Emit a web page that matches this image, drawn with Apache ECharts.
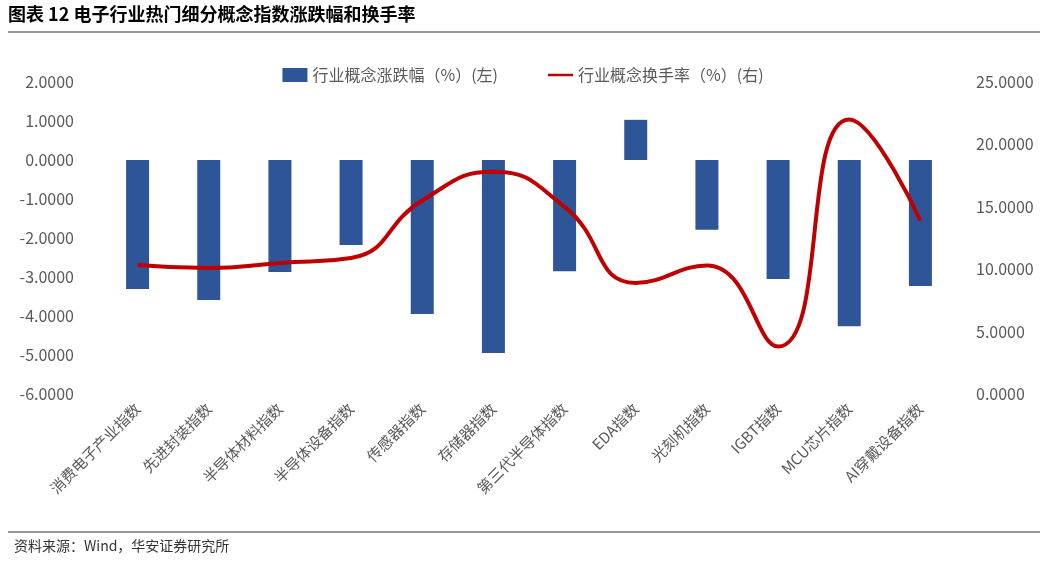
<!DOCTYPE html>
<html>
<head>
<meta charset="utf-8">
<script src="https://cdn.jsdelivr.net/npm/echarts@6/dist/echarts.min.js"></script>
<style>html,body{margin:0;padding:0;background:#fff}</style>
</head>
<body>
<div id="main" style="width:1046px;height:562px"></div>
<script>
// 类目和数据
const categories = ['消费电子产业指数', '先进封装指数', '半导体材料指数', '半导体设备指数', '传感器指数', '存储器指数',
  '第三代半导体指数', 'EDA指数', '光刻机指数', 'IGBT指数', 'MCU芯片指数', 'AI穿戴设备指数'];
const changePct = [-3.31, -3.59, -2.87, -2.18, -3.95, -4.95, -2.85, 1.03, -1.79, -3.05, -4.26, -3.23];
const turnover = [10.34, 10.1, 10.5, 10.9, 15.5, 17.8, 15.0, 8.9, 10.3, 3.8, 22.0, 13.9];

const font = '"Noto Sans CJK SC", "Liberation Sans", sans-serif';
let myChart = echarts.init(document.getElementById('main'));
myChart.setOption({
  textStyle: { fontFamily: font },
  animation: false,
  graphic: [
    { type: 'text', left: 8, top: 5, style: { text: '图表 12 电子行业热门细分概念指数涨跌幅和换手率', font: 'bold 18px ' + font, fill: '#000' } },
    { type: 'line', shape: { x1: 8, y1: 32, x2: 1040, y2: 32 }, style: { stroke: '#333', lineWidth: 1 } },
    { type: 'line', shape: { x1: 8, y1: 532, x2: 1040, y2: 532 }, style: { stroke: '#333', lineWidth: 1 } },
    { type: 'text', left: 14, top: 539, style: { text: '资料来源：Wind，华安证券研究所', font: '14px ' + font, fill: '#333' } }
  ],
  legend: {
    top: 62, left: 'center', itemGap: 50,
    textStyle: { fontSize: 16, color: '#595959' },
    data: [
      { name: '行业概念涨跌幅（%）(左)', icon: 'rect', itemWidth: 40, itemHeight: 10 },
      { name: '行业概念换手率（%）(右)', icon: 'path://M0,0L40,0L40,4L0,4Z', itemWidth: 40, itemHeight: 4 }
    ]
  },
  grid: { left: 102, right: 90, top: 82, bottom: 168 },
  xAxis: {
    type: 'category', data: categories,
    axisLine: { show: false }, axisTick: { show: false },
    axisLabel: { rotate: 45, fontSize: 15, color: '#595959', interval: 0, margin: 12 }
  },
  yAxis: [
    { type: 'value', min: -6, max: 2, interval: 1, splitLine: { show: false },
      axisLabel: { formatter: v => v.toFixed(4), fontSize: 16, color: '#595959', margin: 28 } },
    { type: 'value', min: 0, max: 25, interval: 5, splitLine: { show: false },
      axisLabel: { formatter: v => v.toFixed(4), fontSize: 16, color: '#595959', margin: 20 } }
  ],
  series: [
    { name: '行业概念涨跌幅（%）(左)', type: 'bar', data: changePct, barWidth: 23,
      itemStyle: { color: '#2E5597' } },
    { name: '行业概念换手率（%）(右)', type: 'line', yAxisIndex: 1, data: turnover, smooth: true,
      symbol: 'none', lineStyle: { color: '#C00000', width: 4 }, itemStyle: { color: '#C00000' } }
  ]
});
</script>
</body>
</html>
